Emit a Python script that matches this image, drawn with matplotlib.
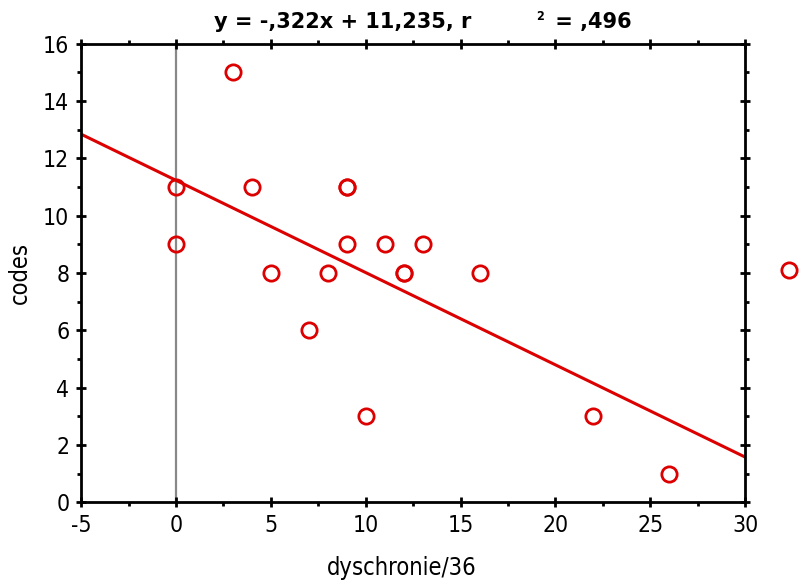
import matplotlib

matplotlib.use("Agg")
import matplotlib.pyplot as plt
from matplotlib.ticker import MultipleLocator
import numpy as np

plt.rcParams["font.family"] = ["DejaVu Sans"]
plt.rcParams["font.stretch"] = "condensed"
plt.rcParams["axes.unicode_minus"] = False

# 数据：散点（最后一个点在坐标轴范围之外）
dyschronie = [0, 0, 3, 4, 5, 7, 8, 9, 9, 9, 10, 11, 12, 12, 13, 16, 22, 26, 32.3]
codes = [11, 9, 15, 11, 8, 6, 8, 11, 11, 9, 3, 9, 8, 8, 9, 8, 3, 1, 8.1]

# 回归直线参数
slope = -0.322
intercept = 11.235
r2_text = ",496"

x_ticks = [-5, 0, 5, 10, 15, 20, 25, 30]
y_ticks = [0, 2, 4, 6, 8, 10, 12, 14, 16]

red = "#dd0000"

fig = plt.figure(figsize=(8.03, 5.84), dpi=100)
ax = fig.add_axes([0.101, 0.140, 0.827, 0.785])

ax.axvline(0, color="#888888", linewidth=1.6, zorder=1)

line_x = np.array([x_ticks[0], x_ticks[-1]])
ax.plot(line_x, slope * line_x + intercept, color=red, linewidth=2.2, zorder=2)

ax.plot(dyschronie, codes, linestyle="none", marker="o", markersize=11,
        markerfacecolor="none", markeredgecolor=red, markeredgewidth=2,
        clip_on=False, zorder=3)

ax.set_xlim(x_ticks[0], x_ticks[-1])
ax.set_ylim(y_ticks[0], y_ticks[-1])
ax.set_xticks(x_ticks)
ax.set_yticks(y_ticks)
ax.xaxis.set_minor_locator(MultipleLocator(2.5))
ax.yaxis.set_minor_locator(MultipleLocator(1))

for spine in ax.spines.values():
    spine.set_linewidth(2)

ax.tick_params(which="major", direction="inout", length=7, width=2,
               top=True, right=True, labelsize=16.5, pad=5)
ax.tick_params(which="minor", direction="out", length=3, width=2,
               top=True, right=True)

ax.set_xlabel("dyschronie/36", fontsize=17)
ax.xaxis.set_label_coords(0.483, -0.118)
ax.set_ylabel("codes", fontsize=17, labelpad=8)

# 标题：上标位置偏移，分段绘制
title_kw = dict(fontsize=15, fontweight="bold", va="center",
                family=["DejaVu Sans"], stretch="normal")
fig.text(0.266, 0.962, "y = -,322x + 11,235, r", ha="left", **title_kw)
fig.text(0.668, 0.972, "2", ha="left", fontsize=9, fontweight="bold",
         va="center", family=["DejaVu Sans"])
fig.text(0.682, 0.962, " = " + r2_text, ha="left", **title_kw)

fig.savefig("out.png", dpi=100)
